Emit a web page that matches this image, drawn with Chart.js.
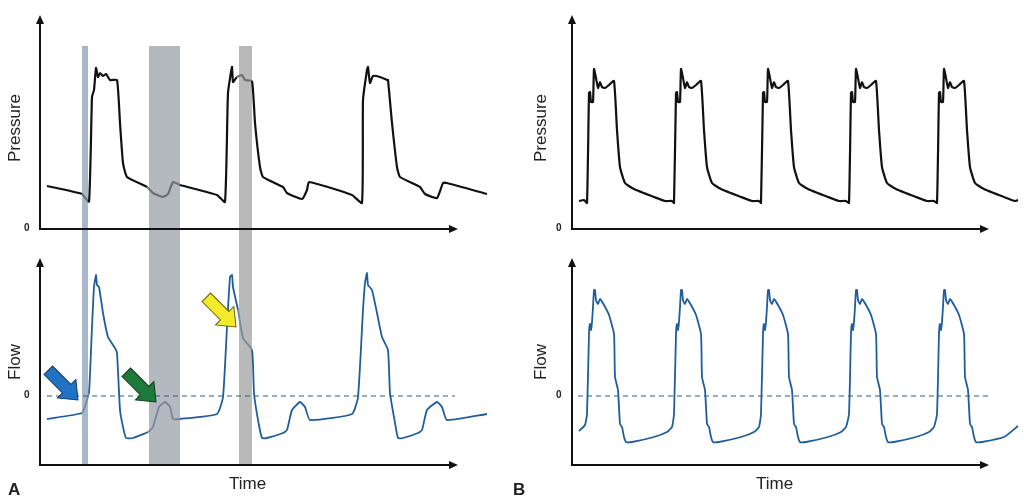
<!DOCTYPE html>
<html>
<head>
<meta charset="utf-8">
<script src="https://cdn.jsdelivr.net/npm/chart.js@4/dist/chart.umd.min.js"></script>
<style>
  body { margin: 0; background: #fff; font-family: "Liberation Sans", Arial, sans-serif; }
  #wrap { position: relative; width: 1024px; height: 500px; }
  canvas { position: absolute; left: 0; }
  .lbl { position: absolute; color: #222; font-size: 17px; white-space: nowrap; }
  .rot { transform: translate(-50%, -50%) rotate(-90deg); }
  .zero { position: absolute; font-size: 10px; font-weight: bold; color: #222; }
  .panel { position: absolute; font-size: 17px; font-weight: bold; color: #222; }
</style>
</head>
<body>
<div id="wrap">
  <canvas id="top" width="1024" height="250" style="top:0"></canvas>
  <canvas id="bottom" width="1024" height="250" style="top:250px"></canvas>
  <div class="lbl rot" style="left:15px;top:128px">Pressure</div>
  <div class="lbl rot" style="left:15px;top:362px">Flow</div>
  <div class="lbl rot" style="left:541px;top:128px">Pressure</div>
  <div class="lbl rot" style="left:541px;top:362px">Flow</div>
  <div class="zero" style="left:24px;top:222px">0</div>
  <div class="zero" style="left:24px;top:389px">0</div>
  <div class="zero" style="left:556px;top:222px">0</div>
  <div class="zero" style="left:556px;top:389px">0</div>
  <div class="lbl" style="left:229px;top:474px">Time</div>
  <div class="lbl" style="left:756px;top:474px">Time</div>
  <div class="panel" style="left:8px;top:480px">A</div>
  <div class="panel" style="left:513px;top:480px">B</div>
</div>
<script>
// Panel A - pressure
const pressureATime = [47,82,89,92,94,96,98,100,103,106,110,117,120,123,127,147,153,163,168,173,180,217,225,228,232,233,237,242,245,252,255,260,263,283,287,302,307,309,352,362,363,367,368,370,373,380,387,388,392,397,400,420,425,437,443,447,487];
const pressureAValue = [43,35,27,132,139,161,152,156,153,155,149,149,106,66,52,42,36,32,35,47,44,34,27,136,162,147,152,154,149,148,106,62,52,42,36,30,39,47,34,26,129,159,162,146,153,152,149,149,106,62,52,42,35,31,46,46,35];

// Panel A - flow
const flowATime = [47,82,86,89,92,94,96,97,99,103,108,115,117,120,123,126,133,148,153,159,165,170,173,180,217,223,227,230,232,233,238,243,252,254,258,262,267,283,287,292,300,305,310,352,358,363,365,367,368,372,377,382,388,390,395,398,403,418,422,427,437,442,447,487];
const flowAValue = [-23,-17,-7,3,69,109,121,111,109,83,59,48,43,-14,-31,-42,-42,-36,-31,-11,-6,-11,-23,-23,-18,-1,69,119,121,109,86,58,46,3,-24,-42,-42,-37,-34,-14,-6,-11,-24,-18,-1,86,113,123,111,106,83,59,46,3,-27,-42,-42,-37,-34,-14,-6,-11,-24,-18];

// Panel B - pressure (five beats)
const pressureBTime = [579,584,
  587,589,590,591,593,594,596,598,600,602,605,609,614,617,620,625,634,654,665,672,
  674,676,677,678,680,681,683,685,687,689,692,696,701,704,707,712,721,741,752,759,
  761,763,764,765,767,768,770,772,774,776,779,783,788,791,794,799,808,828,839,846,
  849,851,852,853,855,856,858,860,862,864,867,871,876,879,882,887,896,916,927,934,
  937,939,940,941,943,944,946,948,950,952,955,959,964,967,970,975,984,1004,1015,1018];
const pressureBValue = [28,29,
  26,136,137,127,127,160,151,141,147,142,141,144,148,99,62,46,40,32,28,28,
  26,136,137,127,127,160,151,141,147,142,141,144,148,99,62,46,40,32,28,28,
  26,136,137,127,127,160,151,141,147,142,141,144,148,99,62,46,40,32,28,28,
  26,136,137,127,127,160,151,141,147,142,141,144,148,99,62,46,40,32,28,28,
  26,136,137,127,127,160,151,141,147,142,141,144,148,99,62,46,40,32,28,29];

// Panel B - flow (five beats)
const flowBTime = [579,585,
  587,589,590,591,592,593,594,595,596,598,600,604,609,614,615,618,620,622,624,626,632,654,667,672,
  674,676,677,678,679,680,681,682,683,685,687,691,696,701,702,705,707,709,711,713,719,741,754,759,
  761,763,764,765,766,767,768,769,770,772,774,778,783,788,789,792,794,796,798,800,806,828,841,846,
  849,851,852,853,854,855,856,857,858,860,862,866,871,876,877,880,882,884,886,888,894,916,929,934,
  937,939,940,941,942,943,944,945,946,948,950,954,959,964,965,968,970,972,974,976,982,1004,1018];
const flowBValue = [-35,-29,
  -18,62,72,66,74,89,106,106,96,92,97,91,81,62,19,6,-28,-31,-41,-46,-46,-41,-36,-31,
  -18,62,72,66,74,89,106,106,96,92,97,91,81,62,19,6,-28,-31,-41,-46,-46,-41,-36,-31,
  -18,62,72,66,74,89,106,106,96,92,97,91,81,62,19,6,-28,-31,-41,-46,-46,-41,-36,-31,
  -18,62,72,66,74,89,106,106,96,92,97,91,81,62,19,6,-28,-31,-41,-46,-46,-41,-36,-31,
  -18,62,72,66,74,89,106,106,96,92,97,91,81,62,19,6,-28,-31,-41,-46,-46,-41,-30];

// shaded time windows in panel A: [start, end, colour]
const bands = [[82, 88, '#a9b8c8'], [149, 180, '#b3b9be'], [239, 252, '#b9b9b9']];

function toPoints(xs, ys) {
    return xs.map((x, i) => ({ x: x, y: ys[i] }));
}

function inBand(x) {
    return bands.some(b => x >= b[0] && x <= b[1]);
}

// Draw the shaded windows, the axes with arrow heads, the dashed zero line and the block arrows
function decorPlugin(cfg) {
    return {
        id: 'decor',
        beforeDatasetsDraw(chart) {
            const c = chart.ctx, xs = chart.scales.x, ys = chart.scales.y;
            c.save();
            bands.forEach(b => {
                const x0 = xs.getPixelForValue(b[0]), x1 = xs.getPixelForValue(b[1]);
                const y0 = ys.getPixelForValue(cfg.bandTop), y1 = ys.getPixelForValue(cfg.bandBottom);
                c.fillStyle = b[2];
                c.fillRect(x0, Math.min(y0, y1), x1 - x0, Math.abs(y1 - y0));
            });
            c.restore();
        },
        afterDatasetsDraw(chart) {
            const c = chart.ctx, xs = chart.scales.x, ys = chart.scales.y;
            c.save();
            cfg.axes.forEach(a => {
                const ox = xs.getPixelForValue(a.x0), oy = ys.getPixelForValue(a.base);
                const ex = xs.getPixelForValue(a.x1), ty = ys.getPixelForValue(a.top);
                c.strokeStyle = '#111'; c.fillStyle = '#111'; c.lineWidth = 2;
                c.beginPath(); c.moveTo(ox, ty + 6); c.lineTo(ox, oy); c.lineTo(ex - 6, oy); c.stroke();
                c.beginPath(); c.moveTo(ex, oy); c.lineTo(ex - 9, oy - 4); c.lineTo(ex - 9, oy + 4); c.fill();
                c.beginPath(); c.moveTo(ox, ty); c.lineTo(ox - 4, ty + 9); c.lineTo(ox + 4, ty + 9); c.fill();
                if (a.dash) {
                    const zy = ys.getPixelForValue(0);
                    c.setLineDash([5, 4]); c.lineWidth = 1.2; c.strokeStyle = '#2d5f82';
                    c.beginPath(); c.moveTo(xs.getPixelForValue(a.dash[0]), zy);
                    c.lineTo(xs.getPixelForValue(a.dash[1]), zy); c.stroke();
                    c.setLineDash([]);
                }
            });
            (cfg.arrows || []).forEach(ar => {
                const tx = xs.getPixelForValue(ar.x), tyy = ys.getPixelForValue(ar.y);
                c.save();
                c.translate(tx, tyy); c.rotate(Math.PI / 4);
                c.beginPath();
                c.moveTo(0, 0); c.lineTo(-16, -13); c.lineTo(-16, -6); c.lineTo(-42, -6);
                c.lineTo(-42, 6); c.lineTo(-16, 6); c.lineTo(-16, 13); c.closePath();
                c.fillStyle = ar.color; c.fill();
                c.lineWidth = 1; c.strokeStyle = ar.edge; c.stroke();
                c.restore();
            });
            c.restore();
        }
    };
}

function makeChart(id, datasets, yMin, yMax, cfg) {
    return new Chart(document.getElementById(id), {
        type: 'line',
        data: { datasets: datasets },
        options: {
            responsive: false,
            animation: false,
            layout: { padding: 0 },
            elements: { point: { radius: 0 }, line: { tension: 0.15, borderJoinStyle: 'round' } },
            plugins: { legend: { display: false }, tooltip: { enabled: false } },
            scales: {
                x: { type: 'linear', min: 0, max: 1024, display: false },
                y: { min: yMin, max: yMax, display: false }
            }
        },
        plugins: [decorPlugin(cfg)]
    });
}

const segA = (grey, normal) => ({
    borderColor: ctx => inBand((ctx.p0.parsed.x + ctx.p1.parsed.x) / 2) ? grey : normal
});

makeChart('top', [
    { data: toPoints(pressureATime, pressureAValue), borderColor: '#111', borderWidth: 2.2, segment: segA('#6f6f6f', '#111') },
    { data: toPoints(pressureBTime, pressureBValue), borderColor: '#111', borderWidth: 2.2 }
], -21, 229, {
    bandTop: 183, bandBottom: -21,
    axes: [
        { x0: 40, x1: 458, base: 0, top: 214 },
        { x0: 572, x1: 989, base: 0, top: 214 }
    ]
});

makeChart('bottom', [
    { data: toPoints(flowATime, flowAValue), borderColor: '#1f5d9c', borderWidth: 1.8, segment: segA('#74879b', '#1f5d9c') },
    { data: toPoints(flowBTime, flowBValue), borderColor: '#1f5d9c', borderWidth: 1.8 }
], -104, 146, {
    bandTop: 146, bandBottom: -69,
    axes: [
        { x0: 40, x1: 458, base: -69, top: 138, dash: [47, 455] },
        { x0: 572, x1: 989, base: -69, top: 138, dash: [578, 988] }
    ],
    arrows: [
        { x: 78, y: -4, color: '#1f72c4', edge: '#0d3c6e' },
        { x: 156, y: -6, color: '#1d7a3b', edge: '#0c3d1c' },
        { x: 236, y: 69, color: '#f3ea2c', edge: '#6a6410' }
    ]
});
</script>
</body>
</html>
